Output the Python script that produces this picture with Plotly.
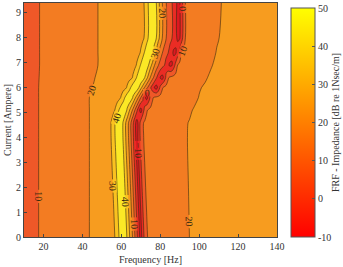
import plotly.graph_objects as go

# Frequency grid [Hz]
freq_hz = [10, 14, 18, 26, 34, 40, 43, 44, 46, 48, 50, 52, 54] + list(range(55, 96)) + \
          [97, 100, 103, 106, 109, 112, 120, 130, 140]

# Current levels [A]
current_a = [0, 2, 4, 4.6, 5.1, 5.6, 6.0, 6.4, 6.9, 7.4, 8.0, 9.4]

# Impedance rows [dB re 1 Nsec/m], one per current level
z_i00 = [7, 8.5, 10.2, 13.5, 16.5, 18.5, 19.7, 20.2, 21.2, 22, 23, 24, 25,
         26, 28, 31, 36, 41, 46, 48, 45, 39, 32, 25, 18, 10, 2, -7, -14, -6, 3, 9, 11, 12,
         12.5, 13, 13.4, 13.8, 14.2, 14.6, 15, 15.3, 15.6, 16, 16.4, 16.8, 17.2, 17.6, 18, 18.4, 18.8, 19.2, 19.6, 20,
         20.8, 21.8, 22.5, 23, 23.5, 24, 24.5, 25, 25.5]
z_i20 = [7, 8.5, 10.2, 13.5, 16.5, 18.5, 19.7, 20.2, 21.2, 22, 23, 24, 25,
         28, 31, 36, 41, 46, 48, 45, 39, 32, 25, 18, 10, 2, -7, -14, -6, 3, 9, 11, 12, 12.5,
         13, 13.3, 13.6, 14, 14.4, 14.8, 15.2, 15.5, 15.8, 16.2, 16.6, 17, 17.4, 17.8, 18.2, 18.6, 19, 19.4, 19.8, 20.2,
         20.9, 21.9, 22.5, 23, 23.5, 24, 24.5, 25, 25.5]
z_i40 = [7, 8.5, 10.2, 13.5, 16.5, 18.5, 19.7, 20.2, 21.2, 22, 23, 24.5, 27,
         31, 36, 41, 46, 48, 45, 39, 32, 25, 18, 10, 2, -7, -14, -6, 3, 9, 11, 12, 12.5, 13,
         13.3, 13.6, 14, 14.4, 14.8, 15.2, 15.5, 15.8, 16.2, 16.6, 17, 17.4, 17.8, 18.2, 18.6, 19, 19.3, 19.6, 20, 20.3,
         21, 22, 22.6, 23, 23.5, 24, 24.5, 25, 25.5]
z_i46 = [7, 8.5, 10.2, 13.5, 16.5, 18.5, 19.7, 20.2, 21.2, 22, 23, 24.5, 27,
         31, 36, 41, 46, 48, 45, 39, 32, 25, 18, 10, 2, -7, -14, -6, 3, 9, 11, 12, 12.5, 13,
         13.3, 13.6, 14, 14.4, 14.8, 15.2, 15.5, 15.8, 16.2, 16.6, 17, 17.4, 17.8, 18.2, 18.6, 19, 19.3, 19.6, 19.9, 20.2,
         20.9, 21.9, 22.6, 23, 23.5, 24, 24.5, 25, 25.5]
z_i51 = [7, 8.5, 10.2, 13.5, 16.5, 18.5, 19.7, 20.2, 21.2, 22, 23, 24, 25,
         26, 28, 31, 36, 41, 46, 48, 45, 39, 32, 25, 18, 10, 2, -7, -14, -6, 3, 9, 11, 12,
         12.5, 13, 13.3, 13.6, 14, 14.3, 14.6, 15, 15.3, 15.6, 16, 16.3, 16.6, 17, 17.4, 17.8, 18.2, 18.6, 19, 19.3,
         20.2, 21.3, 22, 22.7, 23.2, 23.6, 24.2, 24.8, 25.3]
z_i56 = [7, 8.5, 10.2, 13.5, 16.5, 18.5, 19.7, 20.2, 21.2, 22, 23, 24, 25,
         25.5, 26, 26.3, 26.6, 28, 31, 36, 41, 46, 48, 45, 39, 32, 25, 18, 10, 2, -7, -14, -6, 3, 9, 11, 12,
         12.5, 13, 13.3, 13.6, 14, 14.3, 14.6, 15, 15.3, 15.6, 16, 16.3, 16.6, 17, 17.3, 17.6, 18,
         18.6, 20.2, 21, 21.8, 22.5, 23, 23.8, 24.4, 25]
z_i60 = [7, 8.5, 10.2, 13.3, 16.2, 18.2, 19.2, 19.6, 20.3, 21.2, 22.2, 23.2, 24,
         24.5, 25, 25.4, 25.8, 26.2, 26.6, 27, 28,
         31, 36, 41, 46, 49, 46, 40, 33, 26, 19, 13, 7, 1, -5, -10.5, -14, -7, 2, 9, 11.5, 12.5,
         13, 13.4, 13.8, 14.2, 14.6, 15, 15.4, 15.8, 16.2, 16.6, 17, 17.3,
         18, 19.6, 20.6, 21.4, 22.1, 22.6, 23.4, 24, 24.6]
z_i64 = [7, 8.5, 10.1, 13.1, 15.9, 17.9, 18.8, 19.2, 19.8, 20.6, 21.4, 22.2, 23,
         23.5, 24, 24.4, 24.8, 25.2, 25.6, 26, 26.4, 26.8, 27.2, 28,
         31, 36, 41, 46, 49, 46, 40, 33, 26, 19, 13, 7, 1, -5, -10.5, -14, -7, 2, 9, 11.5, 12.5,
         13, 13.4, 13.8, 14.2, 14.6, 15, 15.3, 15.6, 16,
         16.6, 17.8, 19.4, 20.8, 21.6, 22.2, 23, 23.6, 24.2]
z_i69 = [7, 8.5, 10, 13, 15.6, 17.5, 18.4, 18.7, 19.3, 20, 20.8, 21.5, 22.2,
         22.6, 23, 23.4, 23.8, 24.2, 24.6, 25, 25.4, 25.8, 26.2, 26.6, 27.2,
         28, 31, 36, 41, 46, 49, 46, 40, 33, 27, 20.5, 15, 10.5, 6.5, 3, 0.5, -4, -8, -12, -11, -4, 4, 10.5, 12, 12.5,
         13, 13.3, 13.6, 14,
         14.4, 15.8, 17.4, 19.6, 21, 21.8, 22.7, 23.4, 23.9]
z_i74 = [7, 8.5, 10, 13, 15.6, 17.5, 18.4, 18.7, 19.3, 20, 20.8, 21.5, 22.2,
         22.5, 22.8, 23.1, 23.4, 23.7, 24, 24.3, 24.6, 25, 25.4, 25.8, 26.2, 26.6, 27.2,
         28, 31, 36, 41, 46, 49, 46, 40, 33, 27, 20.5, 15, 10.5, 6.5, 3, 0.5, -4, -8, -12, -11, -4, 4, 10.5, 12, 12.5,
         13, 13.3,
         13.8, 15, 16.4, 18.2, 20.3, 21.4, 22.5, 23.2, 23.7]
z_i80 = [7, 8.5, 10, 13, 15.6, 17.5, 18.4, 18.7, 19.3, 20, 20.8, 21.5, 22.2,
         22.5, 22.8, 23.1, 23.4, 23.7, 24, 24.2, 24.4, 24.6, 24.8, 25, 25.3, 25.6, 26, 26.5, 27.2,
         28, 31, 36, 41, 46, 49, 46, 40, 33, 27, 20.5, 15, 10.5, 6.5, 3, 0.5, -4, -8, -12, -11, -4, 4, 10.5, 12, 12.5,
         13.2, 14.6, 16, 17.4, 19.4, 20.8, 22.2, 23, 23.6]
z_i94 = [7, 8.5, 10, 13, 15.6, 17.5, 18.4, 18.7, 19.3, 20, 20.8, 21.5, 22.2,
         22.5, 22.8, 23.1, 23.4, 23.7, 24, 24.2, 24.4, 24.6, 24.8, 25, 25.3, 25.6, 26, 26.5, 27.2,
         28, 31, 36, 41, 46, 49, 46, 40, 33, 27, 20.5, 15, 10.5, 6.5, 3, 0.5, -4, -8, -12, -11, -4, 4, 10.5, 12, 12.5,
         13, 14.2, 15.5, 17, 18.8, 20.3, 22, 22.9, 23.5]

impedance = [z_i00, z_i20, z_i40, z_i46, z_i51, z_i56, z_i60, z_i64, z_i69, z_i74, z_i80, z_i94]

x_ticks = [20, 40, 60, 80, 100, 120, 140]
y_ticks = list(range(0, 10))
cbar_ticks = [-10, 0, 10, 20, 30, 40, 50]

FONT = "Liberation Serif, Times New Roman, serif"

autumn = [[0, "rgb(255,0,0)"], [1, "rgb(255,255,0)"]]
band_colors = [
    [0 / 7, "rgb(222,24,32)"],
    [1 / 7, "rgb(234,44,36)"],
    [2 / 7, "rgb(239,88,40)"],
    [3 / 7, "rgb(243,124,34)"],
    [4 / 7, "rgb(247,156,31)"],
    [5 / 7, "rgb(250,194,32)"],
    [6 / 7, "rgb(251,232,38)"],
    [7 / 7, "rgb(253,250,60)"],
]

fig = go.Figure()
fig.add_trace(go.Heatmap(
    x=freq_hz, y=current_a, z=impedance, zmin=-10, zmax=50,
    colorscale=autumn, showscale=True, hoverinfo="skip",
    colorbar=dict(
        x=1.055, xanchor="left", xpad=0, ypad=0,
        y=0, yanchor="bottom", len=0.98, lenmode="fraction",
        thickness=24, outlinewidth=1, outlinecolor="#555",
        tickmode="array", tickvals=cbar_ticks, ticktext=[str(v) for v in cbar_ticks],
        ticklabeloverflow="allow",
        ticks="inside", ticklen=3, tickcolor="#555",
        tickfont=dict(family=FONT, size=10, color="#333"),
        title=dict(text="FRF - Impedance [dB re 1Nsec/m]", side="right",
                   font=dict(family=FONT, size=10, color="#333")),
    ),
))
fig.add_trace(go.Contour(
    x=freq_hz, y=current_a, z=impedance,
    autocontour=False,
    contours=dict(start=-10, end=50, size=10, coloring="fill",
                  showlabels=True,
                  labelfont=dict(family=FONT, size=10, color="#3a2a10")),
    colorscale=band_colors, showscale=False,
    line=dict(color="#3a2a10", width=0.6, smoothing=1),
    hoverinfo="skip",
))

fig.update_layout(
    width=343, height=267,
    margin=dict(l=24, r=66, t=3, b=30, autoexpand=False),
    paper_bgcolor="white", plot_bgcolor="white",
    font=dict(family=FONT, size=10, color="#333"),
    showlegend=False,
)
fig.update_xaxes(
    range=[10, 140], tickvals=x_ticks, ticks="inside", ticklen=3, tickcolor="#444",
    showline=True, linecolor="#444", linewidth=1, mirror=True, showgrid=False, zeroline=False,
    title=dict(text="Frequency [Hz]", standoff=4, font=dict(family=FONT, size=10)),
    tickfont=dict(family=FONT, size=10),
)
fig.update_yaxes(
    range=[0, 9.4], tickvals=y_ticks, ticks="inside", ticklen=3, tickcolor="#444",
    showline=True, linecolor="#444", linewidth=1, mirror=True, showgrid=False, zeroline=False,
    title=dict(text="Current [Ampere]", standoff=2, font=dict(family=FONT, size=10)),
    tickfont=dict(family=FONT, size=10),
)

fig.write_html("out.html")
